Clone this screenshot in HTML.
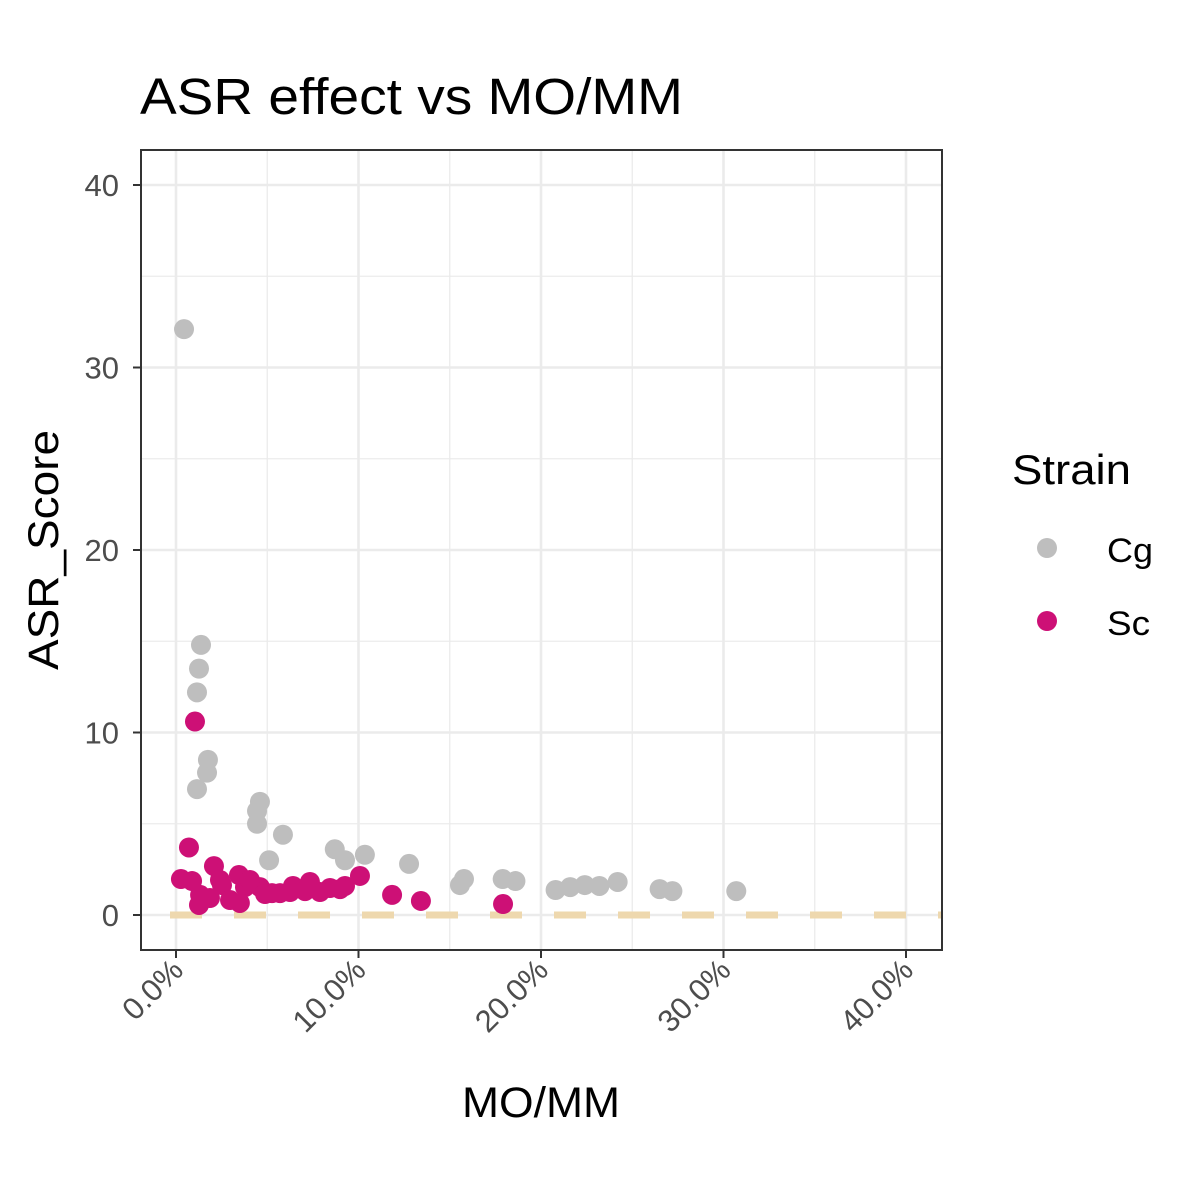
<!DOCTYPE html>
<html><head><meta charset="utf-8"><style>body{margin:0;background:#fff}svg{display:block;font-family:"Liberation Sans",Arial,sans-serif}</style></head>
<body>
<svg id="chart" width="1200" height="1200" viewBox="0 0 1200 1200" xmlns="http://www.w3.org/2000/svg">
<rect width="1200" height="1200" fill="#fff"/>
<text x="140" y="114" font-size="51" textLength="543" lengthAdjust="spacingAndGlyphs" fill="#000">ASR effect vs MO/MM</text>
<g id="grid"></g>
<g id="refline"></g>
<g id="points"></g>
<rect x="141" y="150" width="801" height="800" fill="none" stroke="#333" stroke-width="2"/>
<g id="axes"></g>
<text x="541" y="1117" font-size="43" textLength="158" lengthAdjust="spacingAndGlyphs" text-anchor="middle" fill="#000">MO/MM</text>
<text transform="translate(58,550) rotate(-90)" font-size="43" textLength="240" lengthAdjust="spacingAndGlyphs" text-anchor="middle" fill="#000">ASR_Score</text>
<g>
<text x="1012" y="484" font-size="42" textLength="119" lengthAdjust="spacingAndGlyphs" fill="#000">Strain</text>
<circle cx="1047" cy="548" r="10" fill="#BEBEBE"/>
<text x="1107" y="562" font-size="34" textLength="46" lengthAdjust="spacingAndGlyphs" fill="#000">Cg</text>
<circle cx="1047" cy="621" r="10" fill="#CD1076"/>
<text x="1107" y="635" font-size="34" textLength="43" lengthAdjust="spacingAndGlyphs" fill="#000">Sc</text>
</g>
</svg>
<script>
const cgX=[0.44,1.37,1.26,1.15,1.75,1.70,1.15,4.6,4.44,4.44,5.86,5.1,8.7,9.26,10.35,12.77,15.56,15.78,17.9,18.6,20.8,21.6,22.4,23.2,24.2,26.5,27.2,30.7];
const cgY=[32.1,14.8,13.5,12.2,8.5,7.8,6.9,6.2,5.7,5.0,4.4,3.0,3.6,3.0,3.3,2.8,1.64,1.97,1.97,1.86,1.37,1.53,1.64,1.59,1.81,1.42,1.31,1.31];
const scX=[1.04,0.71,0.27,0.88,2.08,1.26,1.86,2.52,3.45,3.78,4.6,5.26,6.41,6.25,8.44,9.26,7.89,10.08,11.84,13.42,17.92,2.96,3.5,4.88,7.07,8.99,1.32,2.41,4.05,5.7,7.34];
const scY=[10.6,3.7,1.97,1.86,2.68,0.55,0.93,1.64,2.19,1.53,1.53,1.2,1.59,1.26,1.48,1.59,1.26,2.14,1.1,0.77,0.6,0.82,0.66,1.15,1.31,1.42,1.1,1.92,1.92,1.2,1.81];
const xTicks=[0,10,20,30,40];
const xTickLabels=["0.0%","10.0%","20.0%","30.0%","40.0%"];
const yTicks=[0,10,20,30,40];
const yTickLabels=["0","10","20","30","40"];
const refY=0;
const NS="http://www.w3.org/2000/svg";
const sx=v=>176+v*18.25, sy=v=>915-v*18.25;
function mk(tag,attrs,parent){const e=document.createElementNS(NS,tag);for(const k in attrs)e.setAttribute(k,attrs[k]);parent.appendChild(e);return e;}
const grid=document.getElementById('grid'),axes=document.getElementById('axes'),pts=document.getElementById('points');
for(let i=0;i<xTicks.length;i++){const v=xTicks[i];
 if(i<xTicks.length-1){const m=mk('line',{x1:sx(v+5),x2:sx(v+5),y1:150,y2:950,stroke:'#EBEBEB','stroke-width':1.3},grid);
 }
 const g=mk('line',{x1:sx(v),x2:sx(v),y1:150,y2:950,stroke:'#EBEBEB','stroke-width':2.6},grid);
 
 const t=mk('line',{x1:sx(v),x2:sx(v),y1:950,y2:958,stroke:'#333','stroke-width':2},axes);
 
 const l=mk('text',{transform:`translate(${sx(v)+9},${972}) rotate(-45)`,'font-size':31,'text-anchor':'end',fill:'#4D4D4D'},axes);
 l.textContent=xTickLabels[i];
 }
for(let i=0;i<yTicks.length;i++){const v=yTicks[i];
 if(i<yTicks.length-1){const m=mk('line',{x1:141,x2:942,y1:sy(v+5),y2:sy(v+5),stroke:'#EBEBEB','stroke-width':1.3},grid);
 }
 const g=mk('line',{x1:141,x2:942,y1:sy(v),y2:sy(v),stroke:'#EBEBEB','stroke-width':2.6},grid);
 
 const t=mk('line',{x1:133,x2:141,y1:sy(v),y2:sy(v),stroke:'#333','stroke-width':2},axes);
 
 const l=mk('text',{x:119,y:sy(v)+11,'font-size':31,'text-anchor':'end',fill:'#4D4D4D'},axes);
 l.textContent=yTickLabels[i];
 }
const rl=mk('line',{x1:170,x2:942,y1:sy(refY),y2:sy(refY),stroke:'#EED8AE','stroke-width':7,'stroke-dasharray':'32 32'},document.getElementById('refline'));

for(let i=0;i<cgX.length;i++){const c=mk('circle',{cx:sx(cgX[i]),cy:sy(cgY[i]),r:10,fill:'#BEBEBE'},pts);
 }
for(let i=0;i<scX.length;i++){const c=mk('circle',{cx:sx(scX[i]),cy:sy(scY[i]),r:10,fill:'#CD1076'},pts);
 }
</script>
</body></html>
